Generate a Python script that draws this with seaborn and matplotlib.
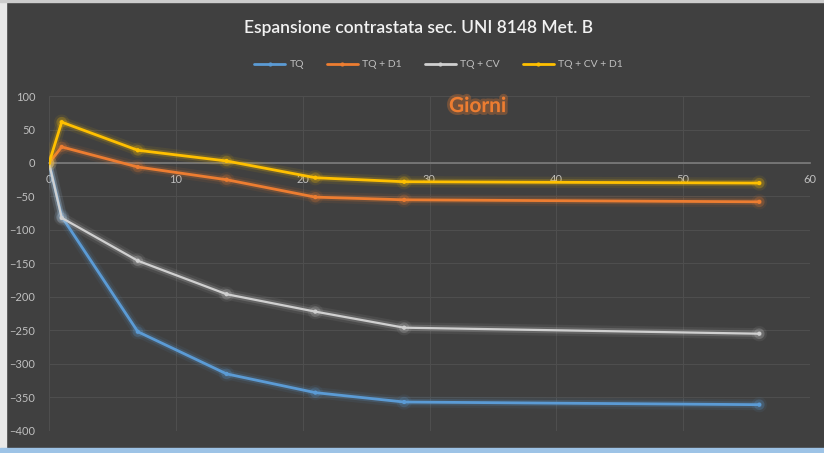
import numpy as np
import pandas as pd
import matplotlib
matplotlib.use('Agg')
import matplotlib.pyplot as plt
import matplotlib.patheffects as pe
from matplotlib.patches import Rectangle
from matplotlib.lines import Line2D
import seaborn as sns

# Data
giorni = [0, 1, 7, 14, 21, 28, 56]
tq = [0, -80, -252, -315, -343, -357, -361]
tq_d1 = [0, 24, -6, -25, -51, -55, -58]
tq_cv = [0, -82, -146, -196, -222, -246, -255]
tq_cv_d1 = [0, 61, 19, 3, -22, -28, -30]

series = ['TQ', 'TQ + D1', 'TQ + CV', 'TQ + CV + D1']
colors = ['#5b9bd5', '#ed7d31', '#d0d0d0', '#ffc000']
widths = [2, 2, 1.6, 2]

df = pd.DataFrame({
    'giorni': giorni * 4,
    'valore': tq + tq_d1 + tq_cv + tq_cv_d1,
    'serie': np.repeat(series, len(giorni)),
})

bg = '#404040'
text_col = '#bfbfbf'

sns.set_theme(style='dark')
plt.rcParams['font.family'] = ['Lato', 'DejaVu Sans']

fig = plt.figure(figsize=(8.24, 4.53), dpi=100, facecolor=bg)
ax = fig.add_axes([0.0595, 0.049, 0.9235, 0.739])
ax.set_facecolor(bg)

sns.lineplot(data=df, x='giorni', y='valore', hue='serie', hue_order=series,
             palette=colors, marker='o', markersize=3, markeredgewidth=0,
             linewidth=2, legend=False, ax=ax)

# soft glow around each line
for line, c, w in zip(ax.get_lines(), colors, widths):
    line.set_linewidth(w)
    line.set_path_effects([
        pe.Stroke(linewidth=8, foreground=c, alpha=0.08),
        pe.Stroke(linewidth=4.5, foreground=c, alpha=0.2),
        pe.Normal(),
    ])

ax.set_xlim(0, 60)
ax.set_ylim(-400, 100)
ax.set_xticks(range(0, 61, 10))
ax.set_yticks(range(-400, 101, 50))
ax.grid(True, color='#4e4e4e', linewidth=0.8)
ax.set_axisbelow(True)
for s in ['top', 'right', 'left']:
    ax.spines[s].set_visible(False)
ax.spines['bottom'].set_position(('data', 0))
ax.spines['bottom'].set_color('#7a7a7a')
ax.spines['bottom'].set_zorder(1)
ax.tick_params(axis='both', colors=text_col, labelsize=8, length=0)
ax.tick_params(axis='x', pad=8)
ax.tick_params(axis='y', pad=10)
ax.set_xlabel('')
ax.set_ylabel('')

ax.text(33.8, 85, 'Giorni', color='#ed7d31', fontsize=15, fontweight='bold',
        ha='center', va='center',
        path_effects=[pe.Stroke(linewidth=4, foreground='#ed7d31', alpha=0.3), pe.Normal()])

fig.text(0.508, 0.938, 'Espansione contrastata sec. UNI 8148 Met. B', color='#f2f2f2',
         fontsize=12.5, fontweight='semibold', ha='center', va='center')

handles = [Line2D([0], [0], color=c, linewidth=2, marker='o', markersize=3, markeredgewidth=0)
           for c in colors]
fig.legend(handles, series, loc='center', bbox_to_anchor=(0.532, 0.857), ncol=4,
           frameon=False, fontsize=7.5, labelcolor=text_col, handlelength=3,
           columnspacing=2.2, handletextpad=0.4)

# light frame and blue bottom line
fig.patches.append(Rectangle((0, 0), 0.007, 1, transform=fig.transFigure, color='#e8e8e8', zorder=5))
fig.patches.append(Rectangle((0, 0), 1, 0.012, transform=fig.transFigure, color='#9dc3e6', zorder=5))
fig.patches.append(Rectangle((0, 0.996), 1, 0.004, transform=fig.transFigure, color='#cccccc', zorder=5))

fig.savefig('out.png', dpi=100, facecolor=bg)
